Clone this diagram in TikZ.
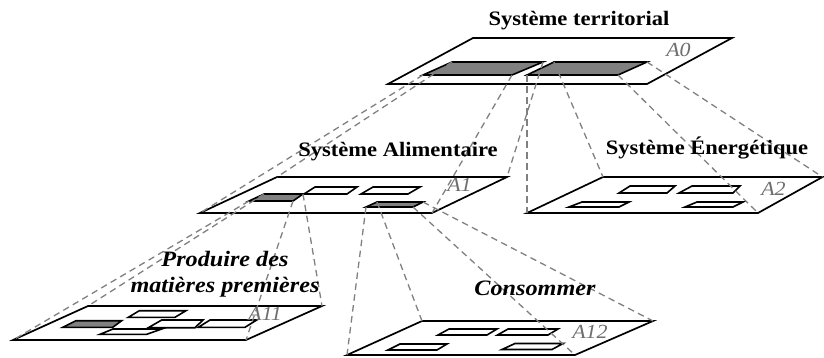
\documentclass[tikz,border=0pt]{standalone}
\usepackage{fontspec}
\setmainfont{Liberation Serif}[FakeStretch=1.1]
\definecolor{rectgray}{RGB}{128,128,128}
\definecolor{dashgray}{RGB}{128,128,128}
\definecolor{labgray}{RGB}{110,110,110}
\newcommand\myquad[6]{%
  \coordinate (#1-tl) at (#3);
  \coordinate (#1-tr) at (#4);
  \coordinate (#1-br) at (#5);
  \coordinate (#1-bl) at (#6);
  \draw[#2] (#1-tl) -- (#1-tr) -- (#1-br) -- (#1-bl) -- cycle;}
\tikzset{
  plane/.style={draw=black, line width=1.7pt, fill=white, line join=miter},
  graybox/.style={draw=black, line width=1.6pt, fill=rectgray},
  whitebox/.style={draw=black, line width=1.6pt, fill=white},
  proj/.style={draw=dashgray, line width=1.3pt, dash pattern=on 6.5pt off 4.5pt},
  title/.style={font=\fontsize{20.5}{24}\selectfont\bfseries, anchor=base, inner sep=0pt},
  ititle/.style={font=\fontsize{22}{24}\selectfont\bfseries\itshape, anchor=base, inner sep=0pt},
  lab/.style={font=\fontsize{20}{24}\selectfont\itshape, text=labgray, anchor=base, inner sep=0pt}
}
\begin{document}
\begin{tikzpicture}[x=1pt,y=-1pt]
\useasboundingbox (0,0) rectangle (824,357);
% planes
\myquad{A0}{plane}{473,38}{732,38}{647,84}{388,84}
\myquad{A1}{plane}{277,177}{507,177}{432,213}{200,213}
\myquad{A2}{plane}{603,177}{822.5,177}{758,213}{527,213}
\myquad{A11}{plane}{88,306}{322,306}{246,340}{13,340}
\myquad{A12}{plane}{422,321}{653,321}{575,355}{347,355}
% A0 boxes
\myquad{a0r1}{graybox}{452,62}{543,62}{512,75}{423,75}
\myquad{a0r2}{graybox}{554,62}{647,62}{618,75}{527,75}
% A1 boxes
\myquad{a1g1}{graybox}{264,194}{303,194}{293,201}{249,201}
\myquad{a1w1}{whitebox}{315,187}{357,187}{347,194}{304,194}
\myquad{a1w2}{whitebox}{373,187}{420,187}{408,194}{361,194}
\myquad{a1g2}{graybox}{377,202}{423,202}{413,207}{366,207}
% A2 boxes
\myquad{a2r1}{whitebox}{630,186}{675,186}{667,193}{619,193}
\myquad{a2r2}{whitebox}{692,186}{740,186}{733,193}{679,193}
\myquad{a2r3}{whitebox}{582,202}{629,202}{619,207}{569,207}
\myquad{a2r4}{whitebox}{697,202}{743,202}{733,207}{685,207}
% A11 boxes
\myquad{a11g}{graybox}{76,320.7}{121.7,320.7}{112.7,327.3}{62.7,327.3}
\myquad{a11t}{whitebox}{139.3,310.7}{186,310.7}{175,317.3}{128.3,317.3}
\myquad{a11m}{whitebox}{161.7,320}{203,320}{195,327.7}{148.3,327.7}
\myquad{a11b}{whitebox}{113,329}{161.7,329}{146.7,334.3}{100,334.3}
\myquad{a11r}{whitebox}{210,320}{256.7,320}{245,327.3}{198.3,327.3}
% A12 boxes
\myquad{a12r1}{whitebox}{449,329}{497,329}{487,335}{438,335}
\myquad{a12r2}{whitebox}{508,329}{558,329}{548,335}{497.5,335}
\myquad{a12r3}{whitebox}{400,344}{447,344}{437,350}{388,350}
\myquad{a12r4}{whitebox}{515,343.5}{563,343.5}{552,349.5}{502,349.5}
% projection lines
\foreach \c in {tl,tr,br,bl}{
  \draw[proj] (a0r1-\c) -- (A1-\c);
  \draw[proj] (a0r2-\c) -- (A2-\c);
  \draw[proj] (a1g1-\c) -- (A11-\c);
  \draw[proj] (a1g2-\c) -- (A12-\c);
}
% titles
\node[title] (tterr) at (579,25) {Système territorial};
\node[title] (talim) at (398,156) {Système Alimentaire};
\node[title] (tener) at (707,154) {Système Énergétique};
\node[ititle] (tprod1) at (225,266) {Produire des};
\node[ititle] (tprod2) at (225,292) {matières premières};
\node[ititle] (tcons) at (535,295) {Consommer};
% labels
\node[lab] (lA0) at (678.5,56.7) {A0};
\node[lab] (lA1) at (459.5,191.7) {A1};
\node[lab] (lA2) at (773.5,195) {A2};
\node[lab] (lA11) at (265,320.7) {A11};
\node[lab] (lA12) at (590,338) {A12};
\end{tikzpicture}
\end{document}
